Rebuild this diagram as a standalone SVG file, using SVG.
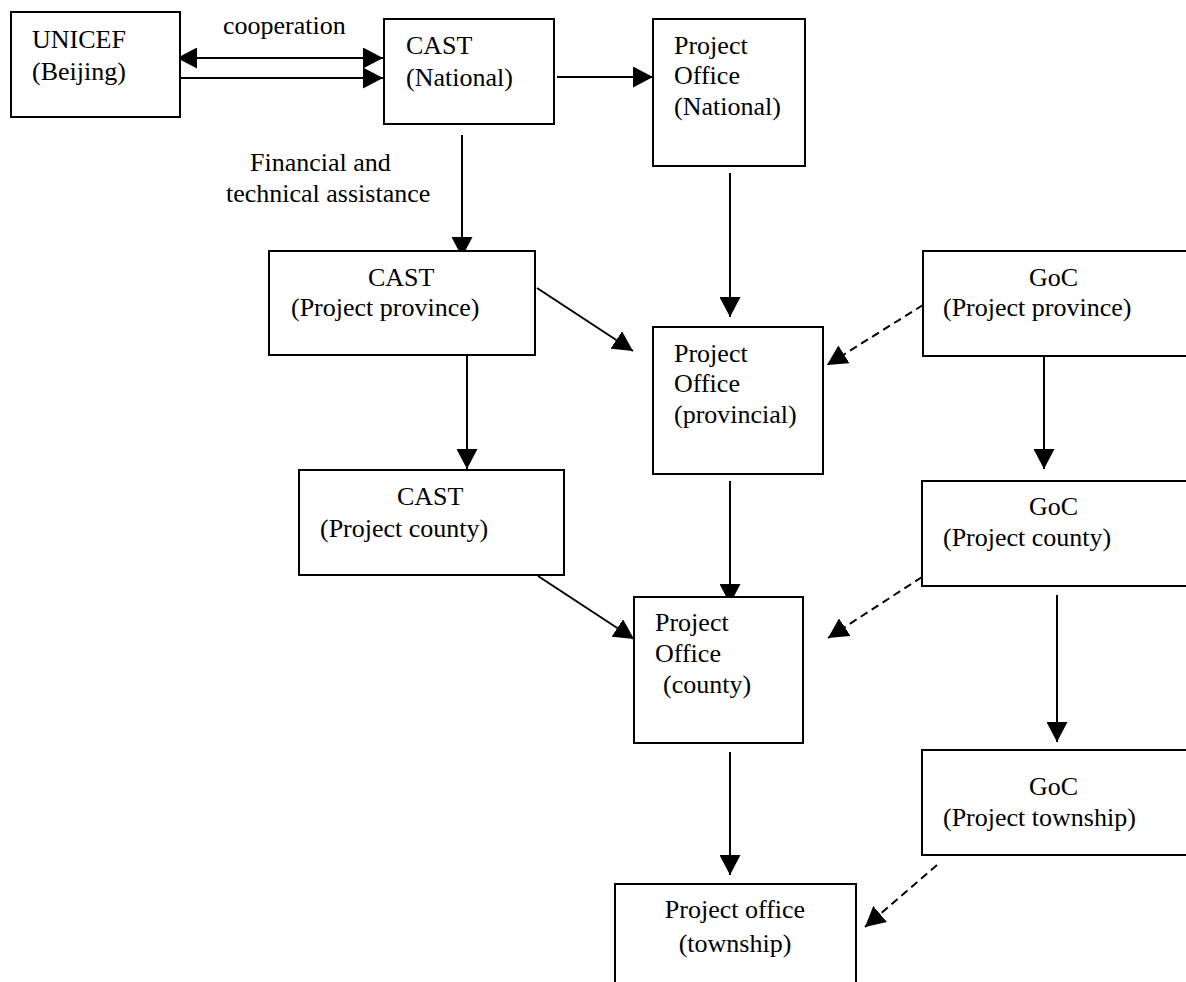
<svg xmlns="http://www.w3.org/2000/svg" width="1186" height="982" viewBox="0 0 1186 982">
<style>
.box{fill:#fff;stroke:#000;stroke-width:2}
.t{font-family:"Liberation Serif","Times New Roman",serif;font-size:26px;fill:#000}
.c{stroke:#000;stroke-width:2;fill:none}
.d{stroke:#000;stroke-width:2;fill:none;stroke-dasharray:8 5}
</style>
<defs>
<marker id="ah" markerUnits="userSpaceOnUse" markerWidth="20" markerHeight="21" refX="20" refY="10.5" orient="auto-start-reverse" viewBox="0 0 20 21">
<path d="M0,0 L20,10.5 L0,21 z" fill="#000"/>
</marker>
</defs>
<rect width="1186" height="982" fill="#fff"/>
<g id="connectors">
<line class="c" x1="177" y1="58" x2="383" y2="58" marker-start="url(#ah)" marker-end="url(#ah)"/>
<line class="c" x1="173" y1="78" x2="383" y2="78" marker-end="url(#ah)"/>
<line class="c" x1="557" y1="77" x2="653" y2="77" marker-end="url(#ah)"/>
<line class="c" x1="462" y1="135" x2="462" y2="257" marker-end="url(#ah)"/>
<line class="c" x1="730" y1="173" x2="730" y2="317" marker-end="url(#ah)"/>
<line class="c" x1="537" y1="288" x2="633" y2="351" marker-end="url(#ah)"/>
<line class="d" x1="923" y1="305" x2="827" y2="365" marker-end="url(#ah)"/>
<line class="c" x1="467" y1="345" x2="467" y2="469" marker-end="url(#ah)"/>
<line class="c" x1="1044" y1="346" x2="1044" y2="469" marker-end="url(#ah)"/>
<line class="c" x1="730" y1="481" x2="730" y2="604" marker-end="url(#ah)"/>
<line class="c" x1="538" y1="576" x2="634" y2="639" marker-end="url(#ah)"/>
<line class="d" x1="922" y1="577" x2="828" y2="638" marker-end="url(#ah)"/>
<line class="c" x1="1057" y1="595" x2="1057" y2="742" marker-end="url(#ah)"/>
<line class="c" x1="730" y1="752" x2="730" y2="875" marker-end="url(#ah)"/>
<line class="d" x1="937" y1="865" x2="865" y2="927" marker-end="url(#ah)"/>
</g>
<g id="n-unicef">
<rect class="box" x="11" y="12" width="169" height="105"/>
<text class="t" x="32" y="48">UNICEF</text>
<text class="t" x="32" y="80">(Beijing)</text>
</g>
<text class="t" x="223" y="34">cooperation</text>
<g id="n-cast-national">
<rect class="box" x="384" y="19" width="170" height="105"/>
<text class="t" x="406" y="54">CAST</text>
<text class="t" x="406" y="86">(National)</text>
</g>
<g id="n-po-national">
<rect class="box" x="653" y="19" width="152" height="147"/>
<text class="t" x="674" y="54">Project</text>
<text class="t" x="674" y="84">Office</text>
<text class="t" x="674" y="115">(National)</text>
</g>
<text class="t" x="250" y="171">Financial and</text>
<text class="t" x="226" y="202">technical assistance</text>
<g id="n-cast-province">
<rect class="box" x="269" y="251" width="266" height="104"/>
<text class="t" x="368" y="286">CAST</text>
<text class="t" x="291" y="316">(Project province)</text>
</g>
<g id="n-goc-province">
<rect class="box" x="923" y="251" width="280" height="105"/>
<text class="t" x="1029" y="286">GoC</text>
<text class="t" x="943" y="316">(Project province)</text>
</g>
<g id="n-po-provincial">
<rect class="box" x="653" y="327" width="170" height="147"/>
<text class="t" x="674" y="362">Project</text>
<text class="t" x="674" y="392">Office</text>
<text class="t" x="674" y="423">(provincial)</text>
</g>
<g id="n-cast-county">
<rect class="box" x="299" y="470" width="265" height="105"/>
<text class="t" x="397" y="505">CAST</text>
<text class="t" x="320" y="537">(Project county)</text>
</g>
<g id="n-goc-county">
<rect class="box" x="922" y="481" width="280" height="105"/>
<text class="t" x="1029" y="515">GoC</text>
<text class="t" x="943" y="546">(Project county)</text>
</g>
<g id="n-po-county">
<rect class="box" x="634" y="597" width="169" height="146"/>
<text class="t" x="655" y="631">Project</text>
<text class="t" x="655" y="662">Office</text>
<text class="t" x="663" y="693">(county)</text>
</g>
<g id="n-goc-township">
<rect class="box" x="922" y="750" width="280" height="105"/>
<text class="t" x="1029" y="795">GoC</text>
<text class="t" x="943" y="826">(Project township)</text>
</g>
<g id="n-po-township">
<rect class="box" x="615" y="884" width="241" height="120"/>
<text class="t" x="735" y="918" text-anchor="middle">Project office</text>
<text class="t" x="735" y="952" text-anchor="middle">(township)</text>
</g>
</svg>
